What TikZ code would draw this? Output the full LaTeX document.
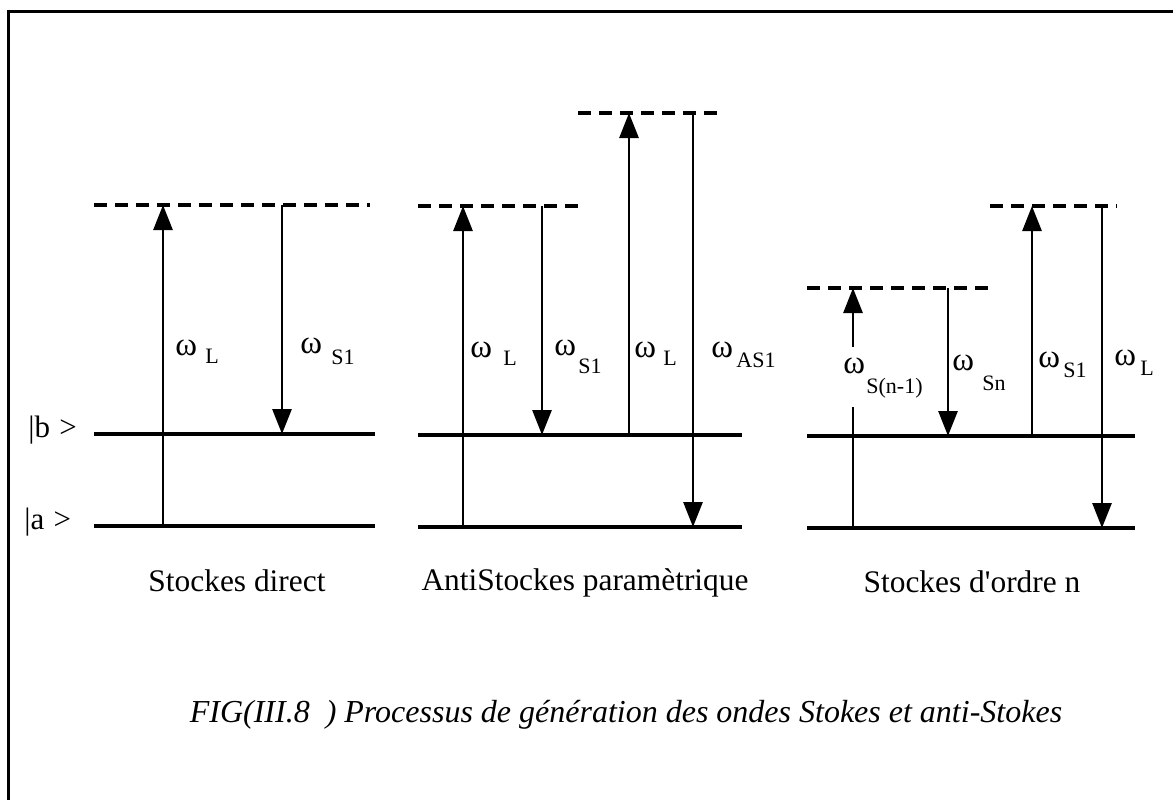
\documentclass[tikz,border=0pt]{standalone}
\usepackage{fontspec}
\setmainfont{Liberation Serif}
\newfontfamily\plainserif{Liberation Serif}[Ligatures=TeXOff]
\usetikzlibrary{arrows.meta}
\begin{document}
\begin{tikzpicture}[x=0.5pt,y=-0.5pt,
  frame/.style={line width=1.5pt},
  level/.style={line width=1.6pt},
  virt/.style={line width=1.7pt, dash pattern=on 6.5pt off 4pt},
  trans/.style={line width=1.4pt},
  arr/.style={trans, -{Triangle[width=9.5pt,length=12.5pt]}},
  om/.style={inner sep=0pt, anchor=base west, font=\fontsize{16.5pt}{16pt}\selectfont},
  sub/.style={inner sep=0pt, anchor=base west, font=\fontsize{11pt}{11pt}\selectfont},
  ket/.style={inner sep=0pt, anchor=base west, font=\fontsize{15.5pt}{16pt}\selectfont},
  title/.style={inner sep=0pt, anchor=base, font=\fontsize{15.7pt}{16pt}\selectfont},
  capt/.style={inner sep=0pt, anchor=base, font=\fontsize{16pt}{16pt}\selectfont\itshape}]
\useasboundingbox (0,0) rectangle (1173,800);
% frame
\coordinate (f0) at (8,800); \coordinate (f1) at (8,11); \coordinate (f2) at (1173,11);
\draw[frame] (f0) -- (f1) -- (f2);

% ---------------- diagram 1 : Stockes direct
\coordinate (v1a) at (94,205);  \coordinate (v1b) at (370,205);
\coordinate (b1a) at (94,434);  \coordinate (b1b) at (375,434);
\coordinate (a1a) at (94,526);  \coordinate (a1b) at (375,526);
\draw[virt] (v1a) -- (v1b);
\draw[level] (b1a) -- (b1b);
\draw[level] (a1a) -- (a1b);
\coordinate (p1s) at (163,526); \coordinate (p1e) at (163,205);
\coordinate (s1s) at (282,205); \coordinate (s1e) at (282,434);
\draw[arr] (p1s) -- (p1e);
\draw[arr] (s1s) -- (s1e);
\node[om] (o11) at (175,355) {ω};  \node[sub] (o11s) at (205,363) {L};
\node[om] (o12) at (300,353) {ω};  \node[sub] (o12s) at (331,364) {S1};
\node[ket] (kb) at (28,437) {|b\hspace{0.3em}>};
\node[ket] (ka) at (24,529) {|a\hspace{0.3em}>};
\node[title] (t1) at (237,591) {Stockes direct};

% ---------------- diagram 2 : AntiStockes parametrique
\coordinate (v2a) at (418,206); \coordinate (v2b) at (582,206);
\coordinate (w2a) at (578,113); \coordinate (w2b) at (723,113);
\coordinate (b2a) at (418,435); \coordinate (b2b) at (742,435);
\coordinate (a2a) at (418,527); \coordinate (a2b) at (742,527);
\draw[virt] (v2a) -- (v2b);
\draw[virt] (w2a) -- (w2b);
\draw[level] (b2a) -- (b2b);
\draw[level] (a2a) -- (a2b);
\coordinate (p2s) at (463,527); \coordinate (p2e) at (463,206);
\coordinate (s2s) at (542,206); \coordinate (s2e) at (542,435);
\coordinate (q2s) at (629,435); \coordinate (q2e) at (629,113);
\coordinate (r2s) at (693,113); \coordinate (r2e) at (693,527);
\draw[arr] (p2s) -- (p2e);
\draw[arr] (s2s) -- (s2e);
\draw[arr] (q2s) -- (q2e);
\draw[arr] (r2s) -- (r2e);
\node[om] (o21) at (470,357) {ω};  \node[sub] (o21s) at (503,365) {L};
\node[om] (o22) at (554,355) {ω};  \node[sub] (o22s) at (578,373) {S1};
\node[om] (o23) at (634,357) {ω};  \node[sub] (o23s) at (663,365) {L};
\node[om] (o24) at (711,357) {ω};  \node[sub] (o24s) at (736,367) {AS1};
\node[title] (t2) at (585,590) {AntiStockes paramètrique};

% ---------------- diagram 3 : Stockes d'ordre n
\coordinate (v3a) at (807,288);  \coordinate (v3b) at (993,288);
\coordinate (w3a) at (990,206);  \coordinate (w3b) at (1117,206);
\coordinate (b3a) at (807,436);  \coordinate (b3b) at (1135,436);
\coordinate (a3a) at (807,528);  \coordinate (a3b) at (1135,528);
\draw[virt] (v3a) -- (v3b);
\draw[virt] (w3a) -- (w3b);
\draw[level] (b3a) -- (b3b);
\draw[level] (a3a) -- (a3b);
\coordinate (n3s) at (853,528); \coordinate (n3m) at (853,407);
\coordinate (n3t) at (853,347); \coordinate (n3e) at (853,288);
\draw[trans] (n3s) -- (n3m);
\draw[arr] (n3t) -- (n3e);
\coordinate (s3s) at (948,288);  \coordinate (s3e) at (948,436);
\coordinate (q3s) at (1032,436); \coordinate (q3e) at (1032,206);
\coordinate (r3s) at (1102,206); \coordinate (r3e) at (1102,528);
\draw[arr] (s3s) -- (s3e);
\draw[arr] (q3s) -- (q3e);
\draw[arr] (r3s) -- (r3e);
\node[om] (o31) at (843,373) {ω};  \node[sub] (o31s) at (866,393) {S(n-1)};
\node[om] (o32) at (952,370) {ω};  \node[sub] (o32s) at (982,390) {Sn};
\node[om] (o33) at (1038,367) {ω}; \node[sub] (o33s) at (1063,377) {S1};
\node[om] (o34) at (1114,365) {ω}; \node[sub] (o34s) at (1140,375) {L};
\node[title] (t3) at (972,592) {\plainserif Stockes d'ordre n};

% caption
\node[capt] (cap) at (626,722) {FIG(III.8\ \ ) Processus de génération des ondes Stokes et anti-Stokes};
\end{tikzpicture}
\end{document}
